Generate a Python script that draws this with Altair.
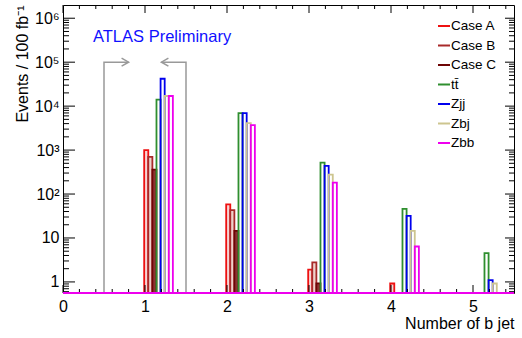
import altair as alt
import pandas as pd

# ---------------- data ----------------
BINS = [1, 2, 3, 4, 5]
SERIES = ["Case A", "Case B", "Case C", "tt\u0304", "Zjj", "Zbj", "Zbb"]
CASE_A = [1000, 58, 1.9, 0.92, 0]
CASE_B = [700, 43, 2.8, 0, 0]
CASE_C = [360, 14.5, 0.93, 0, 0]
TTBAR = [14000, 6900, 520, 46, 4.5]
ZJJ = [42000, 6900, 435, 32, 1.1]
ZBJ = [17000, 4100, 277, 14.5, 0.92]
ZBB = [17000, 3700, 182, 6.4, 0]

X_TICKS = [0, 1, 2, 3, 4, 5]
Y_TICKS = [1, 10, 100, 1000, 10000, 100000, 1000000]
Y_LABELS = ["1", "10", "10²", "10³", "10⁴", "10⁵", "10⁶"]

YMIN, YMAX = 0.56, 2.0e6
XMIN, XMAX = 0.0, 5.5

ARROW_LEFT_X = [0.5, 0.5, 0.8]
ARROW_RIGHT_X = [1.5, 1.5, 1.2]
ARROW_Y = [YMIN, 1e5, 1e5]

# ---------------- styles ----------------
STROKES = ["#ee1111", "#a82a2a", "#6e0505", "#2f8f2f", "#0000ee", "#cdc58f", "#ee00ee"]
FILLS = ["#f7d4d4", "#efd2cc", "#8c3434", "transparent", "transparent", "transparent", "transparent"]
BAR_W = 0.05
OFFSET = -0.01
W, H = 451, 288
FONT = "Liberation Sans"

# ---------------- tables ----------------
rows = []
for k, (name, vals) in enumerate(zip(SERIES, [CASE_A, CASE_B, CASE_C, TTBAR, ZJJ, ZBJ, ZBB])):
    for b, v in zip(BINS, vals):
        if v > YMIN:
            x0 = b + OFFSET + k * BAR_W
            rows.append({"series": name, "k": k, "x": x0, "x1": x0 + BAR_W, "y": v,
                         "base": YMIN, "fillc": FILLS[k]})
bars_df = pd.DataFrame(rows)

arrow_df = pd.DataFrame({
    "side": ["L"] * 3 + ["R"] * 3,
    "i": [0, 1, 2] * 2,
    "x": ARROW_LEFT_X + ARROW_RIGHT_X,
    "y": ARROW_Y + ARROW_Y,
})
head_l = pd.DataFrame({"x": [ARROW_LEFT_X[-1]], "y": [ARROW_Y[-1]]})
head_r = pd.DataFrame({"x": [ARROW_RIGHT_X[-1]], "y": [ARROW_Y[-1]]})

y_minor = []
for e in range(-1, 7):
    for m in range(2, 10):
        val = m * 10 ** e
        if YMIN < val < YMAX:
            y_minor.append(val)
x_minor = [round(i * 0.2, 2) for i in range(0, 28) if i % 5 != 0]

ymaj_df = pd.DataFrame({"y": Y_TICKS})
ymin_df = pd.DataFrame({"y": y_minor})
xmaj_df = pd.DataFrame({"x": X_TICKS})
xmin_df = pd.DataFrame({"x": x_minor})

xscale = alt.Scale(domain=[XMIN, XMAX], nice=False, zero=False)
yscale = alt.Scale(type="log", domain=[YMIN, YMAX], nice=False)

label_arr = "[" + ",".join("'" + s + "'" for s in Y_LABELS) + "]"
yaxis = alt.Axis(
    values=Y_TICKS, labelExpr=label_arr + "[round(log(datum.value)/LN10)]",
    ticks=False, domain=False, grid=False, labelFontSize=16, labelFont=FONT,
    labelPadding=4, labelFlush=False, labelOverlap=False, labelColor="black",
    title="Events / 100 fb⁻¹", titleFontSize=16, titleFont=FONT, titleFontWeight="normal",
    titleAngle=270, titleAlign="right", titleBaseline="middle", titleX=-41, titleY=0,
    titleColor="black",
)
xaxis = alt.Axis(
    values=X_TICKS, format="d", ticks=False, domain=False, grid=False,
    labelFontSize=16, labelFont=FONT, labelPadding=5, labelFlush=False,
    labelOverlap=False, labelColor="black",
    title="Number of b jet", titleFontSize=16, titleFont=FONT, titleFontWeight="normal",
    titleAlign="right", titleBaseline="alphabetic", titleX=W, titleY=35, titleColor="black",
)


def X(field="x:Q"):
    return alt.X(field, scale=xscale, axis=xaxis)


def Y(field="y:Q"):
    return alt.Y(field, scale=yscale, axis=yaxis)


bars = alt.Chart(bars_df).mark_rect(strokeWidth=1.8).encode(
    x=X(),
    x2="x1:Q",
    y=Y(),
    y2="base:Q",
    stroke=alt.Stroke(
        "series:N", scale=alt.Scale(domain=SERIES, range=STROKES),
        legend=alt.Legend(
            orient="none", legendX=374, legendY=14, title=None, symbolType="stroke",
            symbolSize=144, symbolStrokeWidth=2, labelFontSize=13.5, labelFont=FONT,
            rowPadding=5.5, labelOffset=0, padding=0, labelColor="black",
        ),
    ),
    fill=alt.Fill("fillc:N", scale=None),
    order=alt.Order("k:Q"),
)

arrows = alt.Chart(arrow_df).mark_line(color="#999999", strokeWidth=1.5).encode(
    x=X(), y=Y(), detail="side:N", order="i:Q",
)
head_left = alt.Chart(head_l).mark_point(
    shape="M -1.75 -1 L 0 0 L -1.75 1", filled=False, stroke="#999999",
    strokeWidth=1.5, size=64, opacity=1,
).encode(x=X(), y=Y())
head_right = alt.Chart(head_r).mark_point(
    shape="M 1.75 -1 L 0 0 L 1.75 1", filled=False, stroke="#999999",
    strokeWidth=1.5, size=64, opacity=1,
).encode(x=X(), y=Y())


def yticks(df, x0, x1):
    return alt.Chart(df).mark_rule(color="black", strokeWidth=1).encode(
        y=Y(), x=alt.value(x0), x2=alt.value(x1))


def xticks(df, y0, y1):
    return alt.Chart(df).mark_rule(color="black", strokeWidth=1).encode(
        x=X(), y=alt.value(y0), y2=alt.value(y1))


ticks = [
    yticks(ymaj_df, 0, 12), yticks(ymin_df, 0, 6),
    yticks(ymaj_df, W, W - 9), yticks(ymin_df, W, W - 5),
    xticks(xmaj_df, 0, 8), xticks(xmin_df, 0, 4),
    xticks(xmaj_df, H, H - 8), xticks(xmin_df, H, H - 4),
]

baseline = alt.Chart(pd.DataFrame({"a": [0]})).mark_rule(color="#ee00ee", strokeWidth=2).encode(
    x=alt.value(0), x2=alt.value(W), y=alt.value(H))

atlas = alt.Chart(pd.DataFrame({"t": ["ATLAS Preliminary"]})).mark_text(
    align="left", baseline="alphabetic", fontSize=16.5, font=FONT, color="#1010ff",
).encode(text="t:N", x=alt.value(30), y=alt.value(36.7))

chart = alt.layer(arrows, head_left, head_right, bars, *ticks, baseline, atlas).properties(
    width=W, height=H,
    padding={"left": 63, "top": 5, "right": 8, "bottom": 45},
    autosize=alt.AutoSizeParams(type="none"),
    background="white",
).configure(font=FONT).configure_view(stroke="black", strokeWidth=1)

chart.save("out.html", embed_options={"renderer": "svg", "actions": False})
